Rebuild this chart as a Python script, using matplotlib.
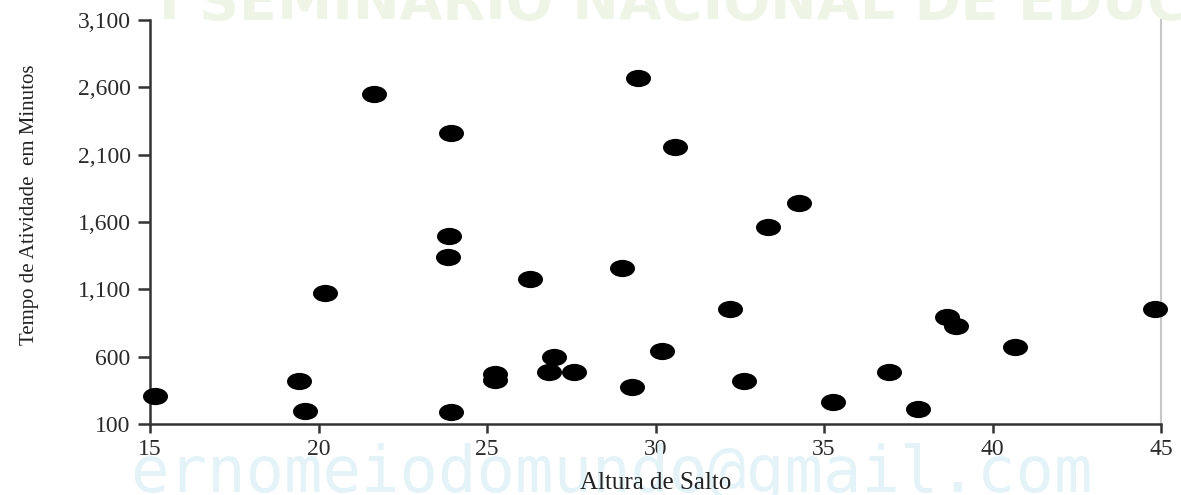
import matplotlib
matplotlib.use("Agg")
import matplotlib.pyplot as plt
from matplotlib.path import Path
from matplotlib.transforms import Affine2D
from matplotlib.ticker import FuncFormatter

# Altura de Salto vs Tempo de Atividade (min)
altura = [15.15, 19.42, 19.60, 20.19, 21.65, 23.93, 23.87, 23.84, 23.93, 25.24,
          25.24, 26.28, 26.99, 26.84, 27.58, 29.01, 29.48, 29.30, 30.19, 30.58,
          32.21, 32.63, 33.34, 34.26, 35.27, 36.93, 37.79, 38.65, 38.92, 40.67,
          44.82]
tempo = [308, 419, 197, 1073, 2550, 2261, 1496, 1340, 189, 471,
         427, 1177, 598, 486, 486, 1258, 2669, 375, 642, 2157,
         954, 419, 1563, 1741, 263, 486, 211, 895, 828, 672,
         954]

x_ticks = [15, 20, 25, 30, 35, 40, 45]
y_ticks = [100, 600, 1100, 1600, 2100, 2600, 3100]

plt.rcParams['font.family'] = ['Liberation Serif', 'DejaVu Serif']

fig = plt.figure(figsize=(11.81, 4.95), dpi=100)

# faint watermark behind the chart
fig.text(0.11, 1 - 492/495, "ernomeiodomundo@gmail.com", family='DejaVu Sans Mono',
         fontsize=46, color='#e3f3f8', va='baseline', ha='left', zorder=0)
fig.text(0.135, 1 - 19/495, "I SEMINARIO NACIONAL DE EDUCACAO", family='DejaVu Sans',
         fontsize=40, fontweight='bold', color='#eef5e6', va='baseline', ha='left', zorder=0)

ax = fig.add_axes([150/1181, 1 - 424/495, (1161 - 150)/1181, (424 - 20)/495])
ax.set_facecolor('white')

# the dots in the picture are wider than tall
ellipse = Path.unit_circle().transformed(Affine2D().scale(1.45, 1.0))
ax.plot(altura, tempo, linestyle='none', marker=ellipse, markersize=18,
        color='black', markeredgewidth=0, clip_on=False, zorder=3)

ax.set_xlim(15, 45)
ax.set_ylim(100, 3100)
ax.set_xticks(x_ticks)
ax.set_yticks(y_ticks)
ax.yaxis.set_major_formatter(FuncFormatter(lambda v, p: f"{v:,.0f}"))

ax.spines['top'].set_visible(False)
ax.spines['right'].set_color('#c8c8c8')
ax.spines['right'].set_linewidth(1.5)
for s in ['left', 'bottom']:
    ax.spines[s].set_color('#333333')
    ax.spines[s].set_linewidth(1.8)

ax.tick_params(axis='y', length=9, width=1.8, color='#333333', pad=5, labelsize=17,
               labelcolor='#2a2a2a')
ax.tick_params(axis='x', length=6.5, width=1.8, color='#333333', pad=4, labelsize=17,
               labelcolor='#2a2a2a')

fig.text(30/1181, 1 - 205/495, "Tempo de Atividade  em Minutos", rotation=90,
         ha='center', va='center', fontsize=15, color='#222222')
fig.text(656/1181, 1 - 483/495, "Altura de Salto", ha='center', va='center',
         fontsize=18, color='#222222')

fig.savefig('out.png', dpi=100)
